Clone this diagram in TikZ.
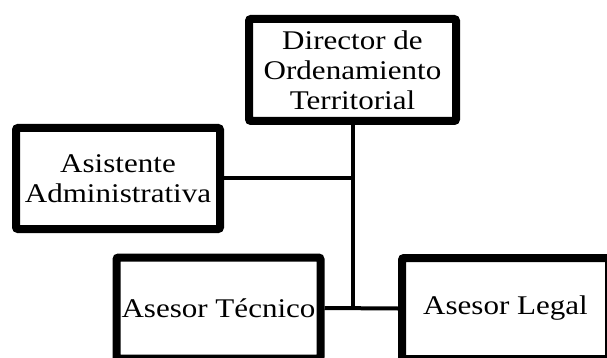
\documentclass[tikz,border=0pt]{standalone}
\usepackage{fontspec}
\setmainfont{Liberation Serif}[FakeStretch=1.15]
\begin{document}
\begin{tikzpicture}[x=1pt,y=-1pt,
  orgbox/.style={draw=black, fill=white, line width=8pt, rounded corners=2pt,
    inner sep=0pt, align=center, font=\fontsize{27}{30}\selectfont},
  link/.style={draw=black, line width=4pt}]
\useasboundingbox (0,0) rectangle (607,358);
\node[orgbox, minimum width=207pt, minimum height=102pt] (dir) at (352.5,70) {Director de\\Ordenamiento\\Territorial};
\node[orgbox, minimum width=204pt, minimum height=101pt] (asi) at (118,178.5) {Asistente\\Administrativa};
\node[orgbox, minimum width=204pt, minimum height=101pt] (tec) at (218.5,308) {Asesor Técnico};
\node[orgbox, minimum width=207pt, minimum height=101pt] (leg) at (505.5,308.5) {Asesor Legal};
\coordinate (j) at (353,307);
\draw[link] (dir.south -| j) -- (j);
\draw[link] (asi.east) -- (asi.east -| j);
\draw[link] (tec.east) -- (leg.west);
\end{tikzpicture}
\end{document}
